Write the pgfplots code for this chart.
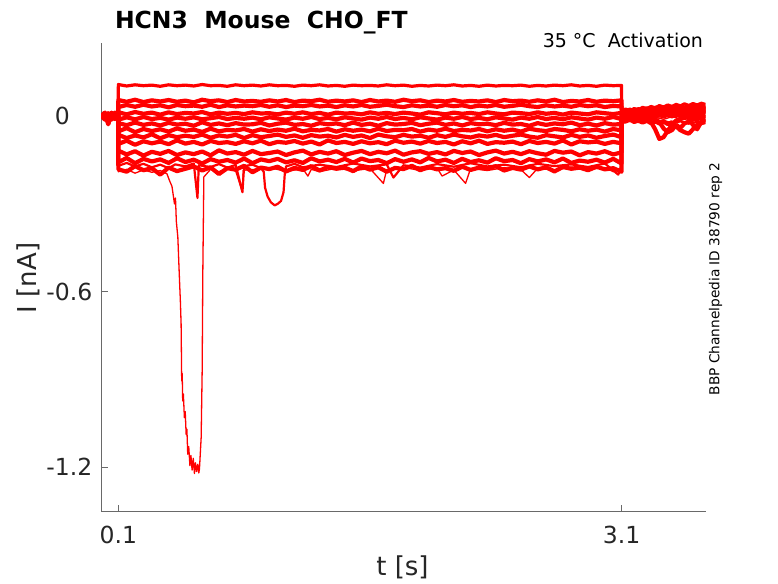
\documentclass[border=0pt]{standalone}
\usepackage{fontspec}
\setmainfont{DejaVu Sans}
\usepackage{pgfplots}
\usepackage{pgfplotstable}
\pgfplotsset{compat=1.18}
\definecolor{axisgray}{RGB}{105,105,105}
\definecolor{labelgray}{RGB}{38,38,38}
\definecolor{tracered}{RGB}{255,0,0}

\pgfplotstableread{
t c1 c2 c3 c4 c5 c6 c7 c8 c9 c10 c11 c12
0.000 0.009 -0.004 0.007 0.000 -0.009 0.004 0.011 -0.007 0.002 -0.005 0.007 -0.003
0.020 -0.007 0.011 -0.009 0.012 0.004 -0.011 0.000 0.009 -0.012 0.006 -0.004 0.010
0.040 0.004 -0.012 0.002 -0.028 -0.006 0.008 -0.015 -0.004 0.010 -0.024 0.002 -0.009
0.060 -0.010 0.006 -0.004 0.008 0.012 -0.006 0.004 -0.010 0.000 0.008 -0.012 0.004
0.080 0.006 -0.002 0.010 -0.008 -0.004 0.012 -0.008 0.006 -0.006 -0.002 0.008 -0.010
0.0995 0.000 0.004 -0.006 0.004 0.008 -0.004 0.006 0.000 0.004 -0.008 0.000 0.006
0.1005 0.108 0.055 0.031 0.013 -0.012 -0.024 -0.052 -0.064 -0.095 -0.118 -0.158 -0.182
0.15 0.103 0.049 0.038 0.006 -0.004 -0.031 -0.041 -0.075 -0.084 -0.131 -0.143 -0.190
0.20 0.107 0.056 0.032 0.014 -0.011 -0.022 -0.055 -0.066 -0.098 -0.120 -0.161 -0.171
0.25 0.104 0.048 0.039 0.008 -0.003 -0.030 -0.044 -0.073 -0.086 -0.135 -0.146 -0.185
0.30 0.106 0.054 0.033 0.012 -0.010 -0.025 -0.051 -0.062 -0.093 -0.122 -0.155 -0.178
0.35 0.102 0.050 0.037 0.005 -0.006 -0.032 -0.045 -0.076 -0.087 -0.129 -0.148 -0.200
0.40 0.107 0.055 0.030 0.013 -0.012 -0.023 -0.053 -0.065 -0.096 -0.119 -0.160 -0.176
0.45 0.104 0.049 0.038 0.007 -0.005 -0.029 -0.042 -0.072 -0.083 -0.133 -0.144 -0.188
0.50 0.106 0.053 0.034 0.011 -0.009 -0.026 -0.050 -0.067 -0.094 -0.124 -0.157 -0.180
0.55 0.103 0.047 0.036 0.009 -0.004 -0.033 -0.046 -0.071 -0.088 -0.130 -0.149 -0.172
0.60 0.108 0.056 0.032 0.014 -0.011 -0.021 -0.054 -0.063 -0.097 -0.121 -0.162 -0.186
0.65 0.104 0.051 0.039 0.006 -0.007 -0.030 -0.043 -0.074 -0.085 -0.134 -0.147 -0.175
0.70 0.105 0.054 0.031 0.012 -0.003 -0.025 -0.052 -0.066 -0.092 -0.117 -0.156 -0.198
0.75 0.102 0.048 0.037 0.008 -0.010 -0.031 -0.047 -0.070 -0.089 -0.128 -0.150 -0.178
0.80 0.107 0.055 0.033 0.011 -0.006 -0.024 -0.049 -0.064 -0.095 -0.123 -0.159 -0.183
0.85 0.104 0.050 0.036 0.007 -0.009 -0.029 -0.044 -0.075 -0.086 -0.132 -0.145 -0.170
0.90 0.106 0.052 0.034 0.013 -0.005 -0.028 -0.053 -0.065 -0.093 -0.119 -0.161 -0.192
0.95 0.103 0.049 0.038 0.009 -0.011 -0.023 -0.045 -0.072 -0.084 -0.130 -0.148 -0.176
1.00 0.107 0.054 0.032 0.010 -0.004 -0.032 -0.051 -0.068 -0.096 -0.126 -0.154 -0.181
1.05 0.104 0.050 0.037 0.006 -0.008 -0.026 -0.046 -0.063 -0.088 -0.121 -0.146 -0.173
1.10 0.105 0.055 0.031 0.012 -0.012 -0.022 -0.050 -0.071 -0.091 -0.133 -0.158 -0.189
1.15 0.102 0.048 0.036 0.008 -0.005 -0.030 -0.043 -0.066 -0.085 -0.124 -0.151 -0.177
1.20 0.106 0.053 0.034 0.013 -0.009 -0.027 -0.052 -0.074 -0.094 -0.118 -0.160 -0.184
1.25 0.104 0.051 0.038 0.007 -0.003 -0.033 -0.047 -0.065 -0.087 -0.131 -0.144 -0.171
1.30 0.107 0.056 0.033 0.011 -0.010 -0.024 -0.049 -0.070 -0.097 -0.122 -0.155 -0.186
1.35 0.103 0.049 0.036 0.005 -0.006 -0.028 -0.044 -0.067 -0.083 -0.128 -0.149 -0.174
1.40 0.105 0.053 0.031 0.012 -0.011 -0.025 -0.053 -0.073 -0.092 -0.120 -0.157 -0.180
1.45 0.102 0.050 0.037 0.009 -0.004 -0.031 -0.045 -0.064 -0.088 -0.133 -0.146 -0.176
1.50 0.106 0.054 0.033 0.010 -0.008 -0.022 -0.050 -0.071 -0.095 -0.125 -0.159 -0.188
1.55 0.104 0.048 0.038 0.006 -0.012 -0.030 -0.046 -0.066 -0.086 -0.119 -0.145 -0.172
1.60 0.105 0.055 0.032 0.013 -0.005 -0.026 -0.052 -0.075 -0.093 -0.130 -0.154 -0.183
1.65 0.103 0.050 0.035 0.008 -0.009 -0.033 -0.043 -0.063 -0.089 -0.122 -0.150 -0.175
1.70 0.107 0.053 0.039 0.011 -0.003 -0.024 -0.051 -0.069 -0.096 -0.127 -0.161 -0.190
1.75 0.104 0.049 0.034 0.007 -0.010 -0.029 -0.047 -0.072 -0.084 -0.118 -0.147 -0.177
1.80 0.106 0.056 0.031 0.012 -0.006 -0.027 -0.048 -0.064 -0.091 -0.132 -0.156 -0.181
1.85 0.102 0.051 0.037 0.009 -0.011 -0.023 -0.044 -0.070 -0.087 -0.124 -0.148 -0.170
1.90 0.105 0.054 0.033 0.005 -0.004 -0.031 -0.053 -0.067 -0.094 -0.120 -0.158 -0.185
1.95 0.103 0.048 0.036 0.013 -0.008 -0.026 -0.046 -0.074 -0.085 -0.129 -0.143 -0.174
2.00 0.106 0.053 0.032 0.010 -0.012 -0.022 -0.050 -0.065 -0.092 -0.123 -0.155 -0.182
2.05 0.104 0.050 0.038 0.006 -0.005 -0.030 -0.043 -0.071 -0.088 -0.131 -0.149 -0.178
2.10 0.107 0.055 0.034 0.012 -0.009 -0.025 -0.051 -0.063 -0.097 -0.119 -0.160 -0.187
2.15 0.103 0.049 0.037 0.008 -0.003 -0.032 -0.047 -0.069 -0.086 -0.126 -0.146 -0.173
2.20 0.105 0.052 0.031 0.011 -0.010 -0.024 -0.049 -0.073 -0.093 -0.121 -0.157 -0.184
2.25 0.102 0.050 0.036 0.007 -0.006 -0.028 -0.044 -0.066 -0.084 -0.133 -0.151 -0.176
2.30 0.106 0.054 0.033 0.013 -0.011 -0.026 -0.052 -0.070 -0.095 -0.124 -0.159 -0.180
2.35 0.103 0.048 0.038 0.009 -0.004 -0.031 -0.045 -0.064 -0.089 -0.118 -0.144 -0.171
2.40 0.105 0.055 0.032 0.006 -0.008 -0.023 -0.050 -0.072 -0.091 -0.128 -0.154 -0.186
2.45 0.104 0.051 0.035 0.012 -0.012 -0.029 -0.046 -0.067 -0.087 -0.122 -0.150 -0.177
2.50 0.106 0.053 0.039 0.010 -0.005 -0.027 -0.053 -0.063 -0.096 -0.130 -0.161 -0.183
2.55 0.102 0.049 0.034 0.007 -0.009 -0.033 -0.043 -0.070 -0.085 -0.120 -0.147 -0.172
2.60 0.105 0.054 0.031 0.013 -0.003 -0.024 -0.048 -0.074 -0.092 -0.127 -0.155 -0.182
2.65 0.103 0.050 0.037 0.008 -0.010 -0.030 -0.051 -0.065 -0.088 -0.132 -0.148 -0.175
2.70 0.106 0.056 0.033 0.011 -0.006 -0.025 -0.044 -0.069 -0.094 -0.119 -0.158 -0.189
2.75 0.104 0.048 0.036 0.005 -0.011 -0.028 -0.047 -0.073 -0.083 -0.125 -0.145 -0.174
2.80 0.107 0.052 0.032 0.012 -0.004 -0.022 -0.052 -0.064 -0.097 -0.121 -0.160 -0.180
2.85 0.103 0.050 0.038 0.009 -0.008 -0.031 -0.045 -0.071 -0.086 -0.134 -0.152 -0.176
2.90 0.105 0.055 0.034 0.006 -0.012 -0.026 -0.050 -0.066 -0.090 -0.123 -0.156 -0.185
2.95 0.102 0.049 0.037 0.013 -0.005 -0.032 -0.046 -0.074 -0.087 -0.128 -0.149 -0.173
3.00 0.106 0.053 0.031 0.010 -0.009 -0.024 -0.053 -0.068 -0.095 -0.120 -0.159 -0.182
3.05 0.104 0.051 0.035 0.007 -0.003 -0.029 -0.044 -0.063 -0.088 -0.131 -0.146 -0.178
3.0995 0.105 0.054 0.033 0.011 -0.010 -0.027 -0.049 -0.072 -0.093 -0.124 -0.162 -0.190
3.1005 0.020 0.015 0.022 0.010 0.005 0.012 -0.002 0.004 -0.010 -0.006 -0.015 -0.020
3.125 0.024 0.018 0.014 0.016 0.008 0.002 0.006 -0.004 0.001 -0.010 -0.008 -0.018
3.15 0.018 0.022 0.019 0.009 0.014 0.006 -0.001 0.005 -0.006 -0.003 -0.014 -0.012
3.175 0.026 0.016 0.013 0.017 0.006 0.011 0.007 -0.003 0.002 -0.009 -0.006 -0.020
3.20 0.021 0.024 0.020 0.011 0.015 0.004 0.000 0.006 -0.005 -0.002 -0.013 -0.015
3.225 0.030 0.019 0.016 0.018 0.009 0.013 0.008 -0.002 0.003 -0.008 -0.007 -0.022
3.25 0.025 0.027 0.022 0.012 0.016 0.005 0.002 0.007 -0.004 -0.012 -0.012 -0.016
3.275 0.033 0.021 0.018 0.020 0.010 0.014 0.009 0.000 0.004 -0.020 -0.005 -0.024
3.30 0.028 0.029 0.024 0.014 0.018 0.007 0.003 0.008 -0.003 -0.045 -0.011 -0.018
3.325 0.036 0.023 0.019 0.022 0.012 0.016 0.010 0.001 0.005 -0.078 -0.020 -0.025
3.35 0.031 0.030 0.026 0.015 0.019 0.008 0.005 0.009 -0.002 -0.072 -0.042 -0.019
3.375 0.038 0.025 0.021 0.023 0.013 0.017 0.011 0.002 0.006 -0.050 -0.055 -0.027
3.40 0.033 0.032 0.027 0.017 0.021 0.010 0.006 0.011 -0.001 -0.030 -0.048 -0.021
3.425 0.040 0.026 0.023 0.025 0.014 0.018 0.012 0.004 0.007 -0.015 -0.030 -0.035
3.45 0.035 0.034 0.029 0.018 0.022 0.011 0.008 0.012 0.000 -0.010 -0.040 -0.048
3.475 0.042 0.028 0.024 0.026 0.016 0.019 0.013 0.005 0.008 -0.006 -0.025 -0.055
3.50 0.036 0.035 0.030 0.020 0.023 0.012 0.009 0.013 -0.008 -0.004 -0.018 -0.060
3.525 0.043 0.030 0.025 0.027 0.017 0.021 0.014 0.006 -0.030 -0.002 -0.012 -0.045
3.55 0.038 0.037 0.031 0.021 0.024 0.013 0.010 0.014 -0.045 0.000 -0.010 -0.030
3.575 0.044 0.031 0.027 0.028 0.018 0.022 0.015 0.007 -0.020 -0.001 -0.006 -0.024
3.60 0.040 0.036 0.032 0.022 0.025 0.014 0.011 0.015 -0.010 0.002 -0.008 -0.020
}\traces

\begin{document}
\begin{tikzpicture}
\useasboundingbox (-101.5pt,-72pt) rectangle (676.5pt,511pt);
\begin{axis}[
  at={(0pt,0pt)}, anchor=south west,
  scale only axis, width=604pt, height=468pt,
  xmin=0, xmax=3.6, ymin=-1.35, ymax=0.25,
  axis x line=bottom, axis y line=left,
  axis line style={-, draw=axisgray, line width=0.8pt},
  xtick={0.1,3.1}, xticklabels={0.1,3.1},
  ytick={-1.2,-0.6,0}, yticklabels={-1.2,-0.6,0\phantom{.0}},
  tick align=inside, major tick length=6pt,
  tick style={draw=axisgray, line width=0.8pt},
  tick label style={font=\fontsize{23.5}{28}\selectfont, text=labelgray, inner sep=0pt},
  xticklabel style={anchor=north, yshift=-15pt},
  yticklabel style={anchor=east, xshift=-9pt},
]
\addplot[tracered, line width=3.2pt, line join=round] table[x=t, y=c1] {\traces};
\pgfplotsinvokeforeach{2,...,12}{
  \addplot[tracered, line width=4.2pt, line join=round] table[x=t, y=c#1] {\traces};
}
% trace with the large inward dip
\addplot[tracered, line width=1.3pt, line join=round] coordinates {
(0,0.002) (0.03,-0.004) (0.06,0.003) (0.0995,-0.001)
(0.1005,-0.190) (0.15,-0.182) (0.20,-0.195) (0.25,-0.184) (0.30,-0.192) (0.35,-0.186) (0.39,-0.197)
(0.405,-0.220) (0.42,-0.240) (0.435,-0.300) (0.441,-0.280) (0.446,-0.360) (0.455,-0.414)
(0.465,-0.562) (0.470,-0.631) (0.4745,-0.711) (0.478,-0.905) (0.481,-0.880) (0.484,-0.974)
(0.488,-0.950) (0.494,-1.031) (0.499,-1.010) (0.5045,-1.088) (0.509,-1.070) (0.514,-1.156)
(0.520,-1.130) (0.527,-1.195) (0.533,-1.160) (0.540,-1.210) (0.547,-1.170) (0.554,-1.222)
(0.560,-1.185) (0.567,-1.215) (0.574,-1.190) (0.580,-1.220) (0.584,-1.205)
(0.594,-1.099) (0.600,-0.871) (0.604,-0.528) (0.610,-0.208)
(0.65,-0.182) (0.70,-0.190) (0.75,-0.178) (0.80,-0.188) (0.84,-0.260) (0.845,-0.185)
(0.90,-0.183) (1.00,-0.176) (1.10,-0.189) (1.20,-0.180) (1.23,-0.205) (1.25,-0.182)
(1.30,-0.190) (1.40,-0.178) (1.50,-0.187) (1.60,-0.179) (1.68,-0.230) (1.70,-0.183)
(1.80,-0.175) (1.90,-0.186) (2.00,-0.177) (2.03,-0.205) (2.10,-0.184) (2.17,-0.230)
(2.20,-0.179) (2.30,-0.186) (2.40,-0.176) (2.50,-0.183) (2.55,-0.210) (2.60,-0.178)
(2.70,-0.185) (2.80,-0.174) (2.90,-0.182) (3.00,-0.176) (3.05,-0.190) (3.0995,-0.180)
(3.1005,-0.010) (3.15,-0.016) (3.20,-0.006) (3.25,-0.013) (3.30,-0.004) (3.35,-0.011)
(3.40,-0.002) (3.45,-0.009) (3.50,0.001) (3.55,-0.007) (3.60,0.003)
};
% trace with the small bump
\addplot[tracered, line width=2.2pt, line join=round] coordinates {
(0,-0.003) (0.03,0.004) (0.06,-0.002) (0.0995,0.002)
(0.1005,-0.170) (0.15,-0.160) (0.20,-0.172) (0.25,-0.163) (0.30,-0.175) (0.35,-0.166)
(0.40,-0.178) (0.44,-0.165) (0.50,-0.172) (0.55,-0.162) (0.572,-0.280) (0.58,-0.168)
(0.65,-0.174) (0.70,-0.164) (0.75,-0.176) (0.80,-0.167) (0.84,-0.260) (0.85,-0.171)
(0.90,-0.166) (0.95,-0.178) (0.967,-0.190) (0.975,-0.245) (0.99,-0.275) (1.01,-0.295)
(1.032,-0.305) (1.05,-0.300) (1.07,-0.290) (1.085,-0.260) (1.092,-0.200) (1.10,-0.172)
(1.15,-0.163) (1.20,-0.175) (1.30,-0.166) (1.40,-0.174) (1.50,-0.162) (1.60,-0.172)
(1.70,-0.165) (1.74,-0.210) (1.80,-0.168) (1.90,-0.176) (2.00,-0.164) (2.10,-0.173)
(2.20,-0.161) (2.30,-0.172) (2.40,-0.166) (2.50,-0.175) (2.60,-0.163) (2.70,-0.171)
(2.80,-0.165) (2.90,-0.174) (3.00,-0.162) (3.08,-0.200) (3.0995,-0.170)
(3.1005,-0.018) (3.15,-0.012) (3.20,-0.020) (3.25,-0.014) (3.30,-0.022) (3.35,-0.016)
(3.40,-0.025) (3.45,-0.018) (3.50,-0.026) (3.55,-0.020) (3.60,-0.015)
};
\end{axis}
\node[anchor=base west, font=\fontsize{23.5}{28}\selectfont\bfseries] at (10pt,482.7pt) {HCN3~~Mouse~~CHO\_FT};
\node[anchor=base east, font=\fontsize{19}{23}\selectfont, text=black] at (605pt,463.3pt) {35 °C~~Activation};
\node[rotate=90, anchor=center, font=\fontsize{13.7}{16}\selectfont] at (614pt,232pt) {BBP Channelpedia ID 38790 rep 2};
\node[anchor=center, font=\fontsize{26}{30}\selectfont, text=labelgray] at (301pt,-56pt) {t [s]};
\node[rotate=90, anchor=center, font=\fontsize{26}{30}\selectfont, text=labelgray] at (-73.5pt,233pt) {I [nA]};
\end{tikzpicture}
\end{document}
